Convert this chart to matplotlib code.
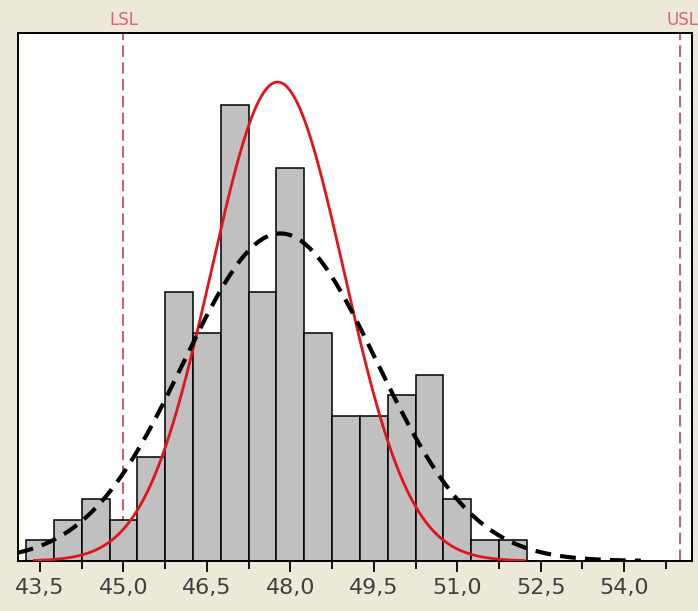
import numpy as np
import matplotlib
matplotlib.use("Agg")
import matplotlib.pyplot as plt
from matplotlib.ticker import FuncFormatter, MultipleLocator
from matplotlib.transforms import blended_transform_factory

# histogram data (bin width 0.5)
bin_start = 43.25
bin_width = 0.5
counts = [1, 2, 3, 2, 5, 13, 11, 22, 13, 19, 11, 7, 7, 8, 9, 3, 1, 1]

# spec limits
lsl = 45.0
usl = 55.0

# fitted normal curves: (mean, sigma, x range drawn)
mean_within = 47.77
sigma_within = 1.19
within_range = (43.4, 52.2)
mean_overall = 47.82
sigma_overall = 1.74
overall_range = (43.1, 54.3)

n_total = sum(counts)
edges = bin_start + bin_width * np.arange(len(counts))

def normal_curve(mu, sd, lo, hi):
    x = np.linspace(lo, hi, 400)
    y = n_total * bin_width / (sd * np.sqrt(2 * np.pi)) * np.exp(-0.5 * ((x - mu) / sd) ** 2)
    return x, y

fig = plt.figure(figsize=(6.98, 6.11), dpi=100, facecolor="#ece9d8")
ax = fig.add_axes([18 / 698, 50 / 611, 674 / 698, 528 / 611])
ax.set_facecolor("white")

# spec limit lines go under the bars
ax.axvline(lsl, color="#c0304a", lw=1.1, ls=(0, (7.5, 3.5)), zorder=1)
ax.axvline(usl, color="#c0304a", lw=1.1, ls=(0, (7.5, 3.5)), zorder=1)

ax.bar(edges, counts, width=bin_width, align="edge", color="#c0c0c0",
       edgecolor="black", linewidth=1.1, zorder=2)

xw, yw = normal_curve(mean_within, sigma_within, *within_range)
ax.plot(xw, yw, color="#e3131b", lw=2.0, zorder=3)
xo, yo = normal_curve(mean_overall, sigma_overall, *overall_range)
ax.plot(xo, yo, color="black", lw=3.0, ls=(0, (3.8, 2.2)), zorder=4)

ax.set_xlim(43.104, 55.22)
ax.set_ylim(0, 25.5)

ax.xaxis.set_minor_locator(MultipleLocator(0.75))
ax.set_xticks(np.arange(43.5, 54.01, 1.5))
ax.xaxis.set_major_formatter(FuncFormatter(lambda v, p: f"{v:.1f}".replace(".", ",")))
ax.tick_params(axis="x", which="major", length=8, width=1.3, color="black",
               labelsize=16, labelcolor="#404040", pad=4)
ax.tick_params(axis="x", which="minor", length=6, width=1.3, color="black")
ax.set_yticks([])

for s in ax.spines.values():
    s.set_linewidth(1.4)
    s.set_color("black")

trans = blended_transform_factory(ax.transData, fig.transFigure)
ax.text(lsl, 0.968, "LSL", transform=trans, ha="center", va="center",
        fontsize=12, color="#e06070")
ax.text(usl + 0.33, 0.968, "USL", transform=trans, ha="right", va="center",
        fontsize=12, color="#e06070")

fig.savefig("out.png", dpi=100, facecolor=fig.get_facecolor())
